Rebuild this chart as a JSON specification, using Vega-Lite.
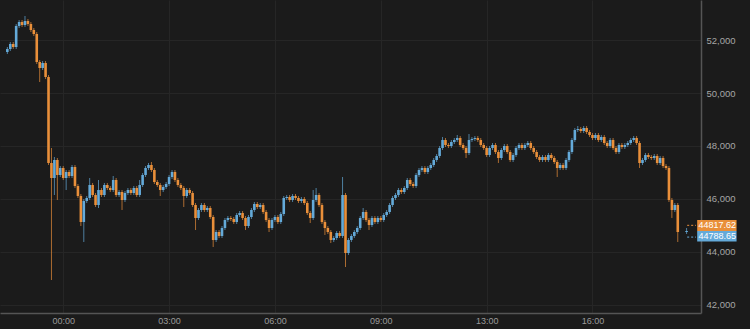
{
"$schema": "https://vega.github.io/schema/vega-lite/v6.json",
"width": 701, "height": 313,
"autosize": {"type": "none"},
"padding": {"left": 0, "top": 0, "right": 49, "bottom": 16},
"background": "#1b1b1b",
"config": {"view": {"stroke": null}, "font": "Liberation Sans"},
"datasets": {"candles": [
{"t":-95,"o":51548,"h":51736,"l":51472,"c":51661},
{"t":-90,"o":51661,"h":51925,"l":51585,"c":51849},
{"t":-85,"o":51849,"h":51925,"l":51661,"c":51736},
{"t":-80,"o":51736,"h":52604,"l":51661,"c":52529},
{"t":-75,"o":52529,"h":52755,"l":52453,"c":52680},
{"t":-70,"o":52680,"h":52755,"l":52491,"c":52567},
{"t":-65,"o":52567,"h":52906,"l":52491,"c":52717},
{"t":-60,"o":52717,"h":52793,"l":52529,"c":52604},
{"t":-55,"o":52604,"h":52680,"l":52302,"c":52378},
{"t":-50,"o":52378,"h":52453,"l":52151,"c":52227},
{"t":-45,"o":52227,"h":52302,"l":51095,"c":51170},
{"t":-40,"o":51170,"h":51246,"l":50415,"c":50944},
{"t":-35,"o":50944,"h":51208,"l":50868,"c":51132},
{"t":-30,"o":51132,"h":51208,"l":50528,"c":50604},
{"t":-25,"o":50604,"h":50679,"l":47283,"c":47359},
{"t":-20,"o":47359,"h":47924,"l":42943,"c":46792},
{"t":-15,"o":46792,"h":47585,"l":46151,"c":47472},
{"t":-10,"o":47472,"h":47547,"l":45962,"c":46906},
{"t":-5,"o":46906,"h":47245,"l":46830,"c":47170},
{"t":0,"o":47170,"h":47245,"l":46717,"c":46792},
{"t":5,"o":46792,"h":47094,"l":46339,"c":47019},
{"t":10,"o":47019,"h":47094,"l":46792,"c":46868},
{"t":15,"o":46868,"h":47283,"l":46792,"c":47208},
{"t":20,"o":47208,"h":47283,"l":46415,"c":46490},
{"t":25,"o":46490,"h":46566,"l":46038,"c":46113},
{"t":30,"o":46113,"h":46188,"l":44981,"c":45132},
{"t":35,"o":45132,"h":46000,"l":44377,"c":45924},
{"t":40,"o":45924,"h":46113,"l":45849,"c":46038},
{"t":45,"o":46038,"h":46792,"l":45962,"c":46528},
{"t":50,"o":46528,"h":46604,"l":46075,"c":46151},
{"t":55,"o":46151,"h":46226,"l":45698,"c":45773},
{"t":60,"o":45773,"h":46717,"l":45660,"c":46339},
{"t":65,"o":46339,"h":46415,"l":46075,"c":46151},
{"t":70,"o":46151,"h":46604,"l":46075,"c":46528},
{"t":75,"o":46528,"h":46604,"l":46339,"c":46415},
{"t":80,"o":46415,"h":46490,"l":46264,"c":46339},
{"t":85,"o":46339,"h":46868,"l":46264,"c":46717},
{"t":90,"o":46717,"h":46792,"l":46075,"c":46151},
{"t":95,"o":46151,"h":46339,"l":46075,"c":46264},
{"t":100,"o":46264,"h":46339,"l":45585,"c":45962},
{"t":105,"o":45962,"h":46302,"l":45887,"c":46226},
{"t":110,"o":46226,"h":46415,"l":46151,"c":46339},
{"t":115,"o":46339,"h":46415,"l":46151,"c":46226},
{"t":120,"o":46226,"h":46490,"l":46151,"c":46415},
{"t":125,"o":46415,"h":46490,"l":46075,"c":46151},
{"t":130,"o":46151,"h":46717,"l":46075,"c":46528},
{"t":135,"o":46528,"h":46981,"l":46453,"c":46906},
{"t":140,"o":46906,"h":47245,"l":46830,"c":47170},
{"t":145,"o":47170,"h":47359,"l":47094,"c":47283},
{"t":150,"o":47283,"h":47396,"l":47019,"c":47094},
{"t":155,"o":47094,"h":47170,"l":46566,"c":46641},
{"t":160,"o":46641,"h":46717,"l":46453,"c":46528},
{"t":165,"o":46528,"h":46604,"l":46113,"c":46339},
{"t":170,"o":46339,"h":46528,"l":46264,"c":46453},
{"t":175,"o":46453,"h":46641,"l":46377,"c":46566},
{"t":180,"o":46566,"h":46906,"l":46490,"c":46830},
{"t":185,"o":46830,"h":47094,"l":46755,"c":47019},
{"t":190,"o":47019,"h":47094,"l":46641,"c":46717},
{"t":195,"o":46717,"h":46792,"l":46453,"c":46528},
{"t":200,"o":46528,"h":46604,"l":46339,"c":46415},
{"t":205,"o":46415,"h":46490,"l":45698,"c":46113},
{"t":210,"o":46113,"h":46415,"l":46038,"c":46339},
{"t":215,"o":46339,"h":46415,"l":46151,"c":46226},
{"t":220,"o":46226,"h":46302,"l":45698,"c":45773},
{"t":225,"o":45773,"h":45849,"l":44830,"c":45283},
{"t":230,"o":45283,"h":45660,"l":45207,"c":45585},
{"t":235,"o":45585,"h":45849,"l":45509,"c":45773},
{"t":240,"o":45773,"h":45849,"l":45509,"c":45585},
{"t":245,"o":45585,"h":45736,"l":45509,"c":45660},
{"t":250,"o":45660,"h":45736,"l":45245,"c":45320},
{"t":255,"o":45320,"h":45396,"l":44188,"c":44453},
{"t":260,"o":44453,"h":44830,"l":44377,"c":44754},
{"t":265,"o":44754,"h":44830,"l":44528,"c":44604},
{"t":270,"o":44604,"h":44981,"l":44528,"c":44905},
{"t":275,"o":44905,"h":45283,"l":44830,"c":45207},
{"t":280,"o":45207,"h":45358,"l":45132,"c":45283},
{"t":285,"o":45283,"h":45358,"l":45170,"c":45245},
{"t":290,"o":45245,"h":45320,"l":45056,"c":45132},
{"t":295,"o":45132,"h":45471,"l":45056,"c":45396},
{"t":300,"o":45396,"h":45547,"l":45320,"c":45471},
{"t":305,"o":45471,"h":45547,"l":45207,"c":45283},
{"t":310,"o":45283,"h":45358,"l":44830,"c":44981},
{"t":315,"o":44981,"h":45396,"l":44905,"c":45320},
{"t":320,"o":45320,"h":45660,"l":45245,"c":45585},
{"t":325,"o":45585,"h":45887,"l":45509,"c":45811},
{"t":330,"o":45811,"h":45887,"l":45622,"c":45698},
{"t":335,"o":45698,"h":45849,"l":45622,"c":45773},
{"t":340,"o":45773,"h":45849,"l":45434,"c":45509},
{"t":345,"o":45509,"h":45585,"l":45132,"c":45207},
{"t":350,"o":45207,"h":45283,"l":44754,"c":44905},
{"t":355,"o":44905,"h":45283,"l":44830,"c":45207},
{"t":360,"o":45207,"h":45396,"l":45132,"c":45320},
{"t":365,"o":45320,"h":45396,"l":45056,"c":45132},
{"t":370,"o":45132,"h":45509,"l":45056,"c":45434},
{"t":375,"o":45434,"h":46113,"l":45358,"c":46038},
{"t":380,"o":46038,"h":46151,"l":45962,"c":46075},
{"t":385,"o":46075,"h":46151,"l":45887,"c":45962},
{"t":390,"o":45962,"h":46188,"l":45887,"c":46113},
{"t":395,"o":46113,"h":46188,"l":45962,"c":46038},
{"t":400,"o":46038,"h":46113,"l":45849,"c":45924},
{"t":405,"o":45924,"h":46075,"l":45849,"c":46000},
{"t":410,"o":46000,"h":46075,"l":45773,"c":45849},
{"t":415,"o":45849,"h":45924,"l":45396,"c":45471},
{"t":420,"o":45471,"h":45547,"l":45094,"c":45283},
{"t":425,"o":45283,"h":46339,"l":45207,"c":45962},
{"t":430,"o":45962,"h":46415,"l":45887,"c":46151},
{"t":435,"o":46151,"h":46226,"l":45698,"c":45773},
{"t":440,"o":45773,"h":45849,"l":45056,"c":45132},
{"t":445,"o":45132,"h":45207,"l":44641,"c":44905},
{"t":450,"o":44905,"h":44981,"l":44679,"c":44754},
{"t":455,"o":44754,"h":44830,"l":44339,"c":44453},
{"t":460,"o":44453,"h":44604,"l":44377,"c":44528},
{"t":465,"o":44528,"h":44792,"l":44453,"c":44717},
{"t":470,"o":44717,"h":44792,"l":44528,"c":44604},
{"t":475,"o":44604,"h":46830,"l":44528,"c":46151},
{"t":480,"o":46151,"h":46226,"l":43433,"c":43962},
{"t":485,"o":43962,"h":44528,"l":43887,"c":44453},
{"t":490,"o":44453,"h":44679,"l":44377,"c":44604},
{"t":495,"o":44604,"h":44830,"l":44528,"c":44754},
{"t":500,"o":44754,"h":44981,"l":44679,"c":44905},
{"t":505,"o":44905,"h":45358,"l":44830,"c":45283},
{"t":510,"o":45283,"h":45660,"l":45207,"c":45509},
{"t":515,"o":45509,"h":45585,"l":45132,"c":45207},
{"t":520,"o":45207,"h":45283,"l":44830,"c":45019},
{"t":525,"o":45019,"h":45358,"l":44943,"c":45283},
{"t":530,"o":45283,"h":45358,"l":45056,"c":45132},
{"t":535,"o":45132,"h":45358,"l":45056,"c":45283},
{"t":540,"o":45283,"h":45358,"l":45132,"c":45207},
{"t":545,"o":45207,"h":45471,"l":45132,"c":45396},
{"t":550,"o":45396,"h":45585,"l":45320,"c":45509},
{"t":555,"o":45509,"h":45849,"l":45434,"c":45773},
{"t":560,"o":45773,"h":46113,"l":45698,"c":46038},
{"t":565,"o":46038,"h":46226,"l":45962,"c":46151},
{"t":570,"o":46151,"h":46415,"l":46075,"c":46339},
{"t":575,"o":46339,"h":46415,"l":46188,"c":46264},
{"t":580,"o":46264,"h":46490,"l":46188,"c":46415},
{"t":585,"o":46415,"h":46792,"l":46339,"c":46717},
{"t":590,"o":46717,"h":46792,"l":46490,"c":46566},
{"t":595,"o":46566,"h":46641,"l":46415,"c":46490},
{"t":600,"o":46490,"h":46981,"l":46415,"c":46906},
{"t":605,"o":46906,"h":47170,"l":46830,"c":47094},
{"t":610,"o":47094,"h":47245,"l":47019,"c":47170},
{"t":615,"o":47170,"h":47245,"l":46943,"c":47019},
{"t":620,"o":47019,"h":47245,"l":46943,"c":47170},
{"t":625,"o":47170,"h":47359,"l":47094,"c":47283},
{"t":630,"o":47283,"h":47547,"l":47208,"c":47472},
{"t":635,"o":47472,"h":47698,"l":47396,"c":47623},
{"t":640,"o":47623,"h":48000,"l":47547,"c":47924},
{"t":645,"o":47924,"h":48340,"l":47849,"c":48226},
{"t":650,"o":48226,"h":48302,"l":47962,"c":48038},
{"t":655,"o":48038,"h":48113,"l":47924,"c":48000},
{"t":660,"o":48000,"h":48226,"l":47924,"c":48151},
{"t":665,"o":48151,"h":48302,"l":48075,"c":48226},
{"t":670,"o":48226,"h":48415,"l":48151,"c":48302},
{"t":675,"o":48302,"h":48377,"l":47962,"c":48038},
{"t":680,"o":48038,"h":48113,"l":47849,"c":47924},
{"t":685,"o":47924,"h":48000,"l":47547,"c":47736},
{"t":690,"o":47736,"h":48453,"l":47660,"c":48226},
{"t":695,"o":48226,"h":48340,"l":48151,"c":48264},
{"t":700,"o":48264,"h":48377,"l":48189,"c":48302},
{"t":705,"o":48302,"h":48377,"l":48151,"c":48226},
{"t":710,"o":48226,"h":48302,"l":47962,"c":48038},
{"t":715,"o":48038,"h":48113,"l":47849,"c":47924},
{"t":720,"o":47924,"h":48000,"l":47585,"c":47660},
{"t":725,"o":47660,"h":48000,"l":47585,"c":47924},
{"t":730,"o":47924,"h":48113,"l":47849,"c":48038},
{"t":735,"o":48038,"h":48113,"l":47698,"c":47774},
{"t":740,"o":47774,"h":47849,"l":47359,"c":47547},
{"t":745,"o":47547,"h":47924,"l":47472,"c":47849},
{"t":750,"o":47849,"h":48075,"l":47774,"c":48000},
{"t":755,"o":48000,"h":48075,"l":47698,"c":47774},
{"t":760,"o":47774,"h":47849,"l":47396,"c":47472},
{"t":765,"o":47472,"h":47736,"l":47396,"c":47660},
{"t":770,"o":47660,"h":48000,"l":47585,"c":47924},
{"t":775,"o":47924,"h":48113,"l":47849,"c":48038},
{"t":780,"o":48038,"h":48113,"l":47849,"c":47924},
{"t":785,"o":47924,"h":48113,"l":47849,"c":48038},
{"t":790,"o":48038,"h":48189,"l":47962,"c":48113},
{"t":795,"o":48113,"h":48189,"l":47849,"c":47924},
{"t":800,"o":47924,"h":48000,"l":47698,"c":47774},
{"t":805,"o":47774,"h":47849,"l":47509,"c":47585},
{"t":810,"o":47585,"h":47660,"l":47396,"c":47472},
{"t":815,"o":47472,"h":47660,"l":47396,"c":47585},
{"t":820,"o":47585,"h":47660,"l":47396,"c":47472},
{"t":825,"o":47472,"h":47736,"l":47396,"c":47660},
{"t":830,"o":47660,"h":47736,"l":47472,"c":47547},
{"t":835,"o":47547,"h":47623,"l":47321,"c":47396},
{"t":840,"o":47396,"h":47472,"l":46830,"c":47170},
{"t":845,"o":47170,"h":47359,"l":47094,"c":47283},
{"t":850,"o":47283,"h":47359,"l":47094,"c":47170},
{"t":855,"o":47170,"h":47547,"l":47094,"c":47472},
{"t":860,"o":47472,"h":47849,"l":47396,"c":47774},
{"t":865,"o":47774,"h":48302,"l":47698,"c":48226},
{"t":870,"o":48226,"h":48679,"l":48151,"c":48604},
{"t":875,"o":48604,"h":48755,"l":48528,"c":48641},
{"t":880,"o":48641,"h":48717,"l":48490,"c":48566},
{"t":885,"o":48566,"h":48755,"l":48490,"c":48679},
{"t":890,"o":48679,"h":48755,"l":48453,"c":48528},
{"t":895,"o":48528,"h":48604,"l":48340,"c":48415},
{"t":900,"o":48415,"h":48490,"l":48226,"c":48302},
{"t":905,"o":48302,"h":48490,"l":48226,"c":48415},
{"t":910,"o":48415,"h":48490,"l":48151,"c":48226},
{"t":915,"o":48226,"h":48415,"l":48151,"c":48340},
{"t":920,"o":48340,"h":48415,"l":48038,"c":48113},
{"t":925,"o":48113,"h":48189,"l":47924,"c":48000},
{"t":930,"o":48000,"h":48302,"l":47924,"c":48226},
{"t":935,"o":48226,"h":48302,"l":47849,"c":47924},
{"t":940,"o":47924,"h":48000,"l":47698,"c":47774},
{"t":945,"o":47774,"h":48113,"l":47698,"c":48038},
{"t":950,"o":48038,"h":48113,"l":47887,"c":47962},
{"t":955,"o":47962,"h":48113,"l":47887,"c":48038},
{"t":960,"o":48038,"h":48189,"l":47962,"c":48113},
{"t":965,"o":48113,"h":48302,"l":48038,"c":48226},
{"t":970,"o":48226,"h":48377,"l":48151,"c":48302},
{"t":975,"o":48302,"h":48377,"l":48038,"c":48113},
{"t":980,"o":48113,"h":48189,"l":47170,"c":47359},
{"t":985,"o":47359,"h":47547,"l":47283,"c":47472},
{"t":990,"o":47472,"h":47736,"l":47396,"c":47660},
{"t":995,"o":47660,"h":47736,"l":47509,"c":47585},
{"t":1000,"o":47585,"h":47660,"l":47472,"c":47547},
{"t":1005,"o":47547,"h":47698,"l":47472,"c":47623},
{"t":1010,"o":47623,"h":47698,"l":47283,"c":47359},
{"t":1015,"o":47359,"h":47623,"l":47283,"c":47547},
{"t":1020,"o":47547,"h":47623,"l":47170,"c":47245},
{"t":1025,"o":47245,"h":47321,"l":47094,"c":47170},
{"t":1030,"o":47170,"h":47245,"l":45887,"c":45962},
{"t":1035,"o":45962,"h":46038,"l":45283,"c":45585},
{"t":1040,"o":45585,"h":45849,"l":45509,"c":45773},
{"t":1045,"o":45773,"h":45849,"l":44377,"c":44754},
{"t":1060,"o":44754,"h":44905,"l":44679,"c":44792}
],
"orangeLab": [{"p": 44817.62, "lab": "44817.62"}],
"blueLab": [{"p": 44788.65, "lab": "44788.65"}]
},
"layer": [
{"data": {"name": "candles"},
 "mark": {"type": "rule", "strokeWidth": 1, "opacity": 0.7},
 "encoding": {
  "x": {"field": "t", "type": "quantitative", "scale": {"domain": [-99, 1076], "nice": false, "zero": false},
   "axis": {"orient": "bottom", "title": null, "values": [0, 180, 360, 540, 720, 900],
    "labelExpr": "['00:00','03:00','06:00','09:00','13:00','16:00'][datum.value/180]",
    "labelColor": "#9a9a9a", "labelFontSize": 9, "labelPadding": 3, "ticks": false,
    "domainColor": "#555555", "domainWidth": 1.5, "grid": true, "gridColor": "#262626", "labelFont": "Liberation Sans"}},
  "y": {"field": "l", "type": "quantitative", "scale": {"domain": [41697, 53510], "nice": false, "zero": false},
   "axis": {"orient": "right", "title": null, "values": [42000, 44000, 46000, 48000, 50000, 52000], "format": ",.0f",
    "labelColor": "#a6a6a6", "labelFontSize": 9.5, "labelPadding": 5, "ticks": false,
    "domainColor": "#555555", "domainWidth": 1.5, "grid": true, "gridColor": "#262626", "labelFont": "Liberation Sans"}},
  "y2": {"field": "h"},
  "color": {"condition": {"test": "datum.c >= datum.o", "value": "#64aad9"}, "value": "#e98f3a"}
 }},
{"data": {"name": "candles"},
 "mark": {"type": "bar", "width": 2.6},
 "encoding": {
  "x": {"field": "t", "type": "quantitative"},
  "y": {"field": "o", "type": "quantitative"},
  "y2": {"field": "c"},
  "color": {"condition": {"test": "datum.c >= datum.o", "value": "#64aad9"}, "value": "#e98f3a"}
 }},
{"data": {"name": "orangeLab"},
 "mark": {"type": "rule", "color": "#e98f3a", "strokeDash": [2, 2], "yOffset": -5, "clip": false},
 "encoding": {"x": {"datum": 1061}, "x2": {"datum": 1076}, "y": {"field": "p", "type": "quantitative"}}},
{"data": {"name": "blueLab"},
 "mark": {"type": "rule", "color": "#64aad9", "strokeDash": [2, 2], "yOffset": 6, "clip": false},
 "encoding": {"x": {"datum": 1061}, "x2": {"datum": 1076}, "y": {"field": "p", "type": "quantitative"}}},
{"data": {"name": "orangeLab"},
 "mark": {"type": "rect", "color": "#e98f3a", "yOffset": -10.3, "y2Offset": 0.6, "clip": false},
 "encoding": {"x": {"datum": 1078}, "x2": {"datum": 1145}, "y": {"field": "p", "type": "quantitative"}, "y2": {"field": "p"}}},
{"data": {"name": "blueLab"},
 "mark": {"type": "rect", "color": "#64aad9", "yOffset": -0.2, "y2Offset": 10.5, "clip": false},
 "encoding": {"x": {"datum": 1078}, "x2": {"datum": 1145}, "y": {"field": "p", "type": "quantitative"}, "y2": {"field": "p"}}},
{"data": {"name": "orangeLab"},
 "mark": {"type": "text", "color": "#ffffff", "fontSize": 9, "dy": -5, "align": "center", "baseline": "middle", "clip": false, "font": "Liberation Sans"},
 "encoding": {"x": {"datum": 1112}, "y": {"field": "p", "type": "quantitative"}, "text": {"field": "lab"}}},
{"data": {"name": "blueLab"},
 "mark": {"type": "text", "color": "#ffffff", "fontSize": 9, "dy": 5.3, "align": "center", "baseline": "middle", "clip": false, "font": "Liberation Sans"},
 "encoding": {"x": {"datum": 1112}, "y": {"field": "p", "type": "quantitative"}, "text": {"field": "lab"}}}
]
}
